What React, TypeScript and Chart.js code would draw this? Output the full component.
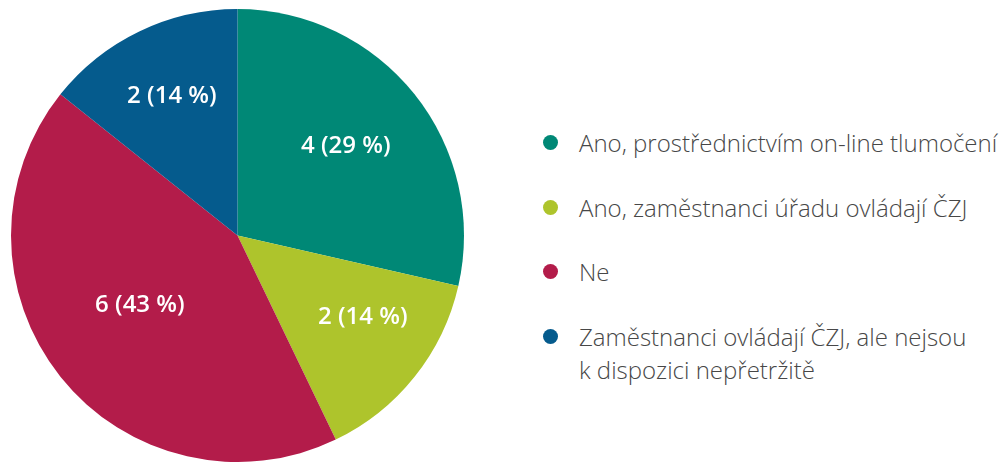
import React, { useEffect, useRef } from "react";
import { Chart, registerables } from "chart.js";

Chart.register(...registerables);

const categories = [
  "Ano, prostřednictvím on-line tlumočení",
  "Ano, zaměstnanci úřadu ovládají ČZJ",
  "Ne",
  "Zaměstnanci ovládají ČZJ, ale nejsou\nk dispozici nepřetržitě",
];
const counts = [4, 2, 6, 2];
const colors = ["#008876", "#AEC42C", "#B31C4A", "#055B8D"];
const labelRadius = [0.62, 0.66, 0.53, 0.68];
const labelAngleShift = [-1, -5.5, 3, 0.5];

const sliceLabels = {
  id: "sliceLabels",
  afterDatasetsDraw(chart: any) {
    const ctx = chart.ctx;
    const meta = chart.getDatasetMeta(0);
    const data = chart.data.datasets[0].data as number[];
    const total = data.reduce((a, b) => a + b, 0);
    ctx.save();
    ctx.fillStyle = "#ffffff";
    ctx.font = "600 24px 'Open Sans'";
    ctx.textAlign = "center";
    ctx.textBaseline = "middle";
    meta.data.forEach((arc: any, i: number) => {
      const p = arc.getProps(["x", "y", "startAngle", "endAngle", "outerRadius"], true);
      const mid = (p.startAngle + p.endAngle) / 2 + (labelAngleShift[i] * Math.PI) / 180;
      const r = p.outerRadius * labelRadius[i];
      const x = p.x + Math.cos(mid) * r;
      const y = p.y + Math.sin(mid) * r;
      const pct = Math.round((data[i] / total) * 100);
      ctx.fillText(`${data[i]} (${pct} %)`, x, y);
    });
    ctx.restore();
  },
};

export default function App() {
  const ref = useRef<HTMLCanvasElement>(null);
  useEffect(() => {
    document.body.style.margin = "0";
    const chart = new Chart(ref.current!, {
      type: "pie",
      data: {
        labels: categories,
        datasets: [
          {
            data: counts,
            backgroundColor: colors,
            borderWidth: 0,
          },
        ],
      },
      options: {
        animation: false,
        responsive: false,
        maintainAspectRatio: false,
        layout: { padding: { left: 11, top: 9, right: 0, bottom: 0 } },
        plugins: {
          legend: { display: false },
          tooltip: { enabled: false },
        },
      },
      plugins: [sliceLabels],
    });
    return () => chart.destroy();
  }, []);

  return (
    <div style={{ position: "relative", width: 1002, height: 462, overflow: "hidden", background: "#fff" }}>
      <canvas ref={ref} width={464} height={462} style={{ position: "absolute", left: 0, top: 0, width: 464, height: 462 }} />
      <div
        style={{
          position: "absolute",
          left: 543,
          top: 126,
          fontFamily: "'Open Sans', sans-serif",
          fontWeight: 300,
          fontSize: 24,
          lineHeight: "33px",
          color: "#474747",
        }}
      >
        {categories.map((c, i) => (
          <div key={i} style={{ display: "flex", alignItems: "flex-start", marginBottom: 31.5 }}>
            <span
              style={{
                width: 15,
                height: 15,
                borderRadius: "50%",
                background: colors[i],
                marginTop: 9,
                marginRight: 21,
                flex: "0 0 auto",
              }}
            />
            <span style={{ whiteSpace: "pre-line" }}>{c}</span>
          </div>
        ))}
      </div>
    </div>
  );
}
